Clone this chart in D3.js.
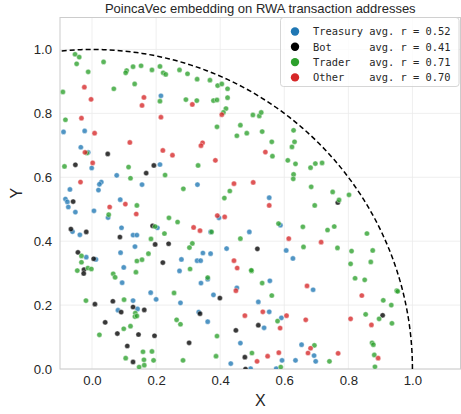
<!DOCTYPE html>
<html>
<head>
<meta charset="utf-8">
<script src="https://cdn.jsdelivr.net/npm/d3@7"></script>
<style>
  body { margin: 0; background: #fff; }
  svg { display: block; font-family: "Liberation Sans", Arial, sans-serif; }
</style>
</head>
<body>
<div id="chart"></div>
<script>

// data ====================

var categories = ["Treasury", "Bot", "Trader", "Other"];
var avgR = [0.52, 0.41, 0.71, 0.70];
var colors = ["#1f77b4", "#000000", "#2ca02c", "#d62728"];

var xTicks = [0.0, 0.2, 0.4, 0.6, 0.8, 1.0];
var yTicks = [0.0, 0.2, 0.4, 0.6, 0.8, 1.0];

var treasuryPts = [
  [0.215,0.855],[-0.089,0.742],[-0.023,0.745],[-0.035,0.694],[-0.012,0.678],[-0.001,0.629],
  [0.212,0.640],[0.077,0.606],[0.029,0.585],[0.023,0.578],[0.156,0.577],[0.020,0.560],
  [-0.069,0.562],[-0.083,0.532],[-0.077,0.523],[0.088,0.530],[-0.074,0.507],[0.006,0.495],
  [-0.052,0.491],[0.050,0.474],[-0.061,0.430],[-0.038,0.420],[0.092,0.442],[0.128,0.419],
  [0.140,0.419],[0.204,0.442],[0.134,0.383],[-0.018,0.350],[0.012,0.343],[0.089,0.364],
  [0.279,0.343],[0.099,0.318],[0.273,0.307],[0.094,0.270],[0.183,0.239],[0.200,0.218],
  [0.128,0.214],[0.276,0.207],[0.142,0.188],[0.081,0.184],[0.329,0.577],[0.553,0.536],
  [0.396,0.473],[0.370,0.429],[0.588,0.450],[0.491,0.429],[0.420,0.377],[0.606,0.371],
  [0.346,0.363],[0.370,0.361],[0.627,0.346],[0.328,0.339],[0.339,0.339],[0.361,0.281],
  [0.340,0.269],[0.555,0.276],[0.690,0.248],[0.452,0.254],[0.379,0.232],[0.519,0.210],
  [0.333,0.178],[0.361,0.148],[0.553,0.179],[0.591,0.160],[0.537,0.129],[0.463,0.081],
  [0.654,0.076],[0.693,0.042],[0.698,0.024],[0.593,0.027],[0.635,0.027],[0.575,0.001],
  [0.433,0.017],[0.495,0.001]
];

var botPts = [
  [0.049,0.673],[-0.052,0.639],[0.193,0.637],[0.169,0.613],[-0.059,0.524],[-0.066,0.438],
  [-0.018,0.429],[0.087,0.413],[0.189,0.448],[0.197,0.390],[0.239,0.392],[-0.044,0.365],
  [0.005,0.345],[0.221,0.333],[-0.025,0.311],[-0.026,0.299],[0.065,0.212],[0.009,0.203],
  [0.128,0.194],[0.091,0.178],[0.163,0.185],[0.041,0.146],[0.079,0.111],[0.145,0.108],
  [0.195,0.104],[0.303,0.082],[0.110,0.072],[0.128,0.022],[0.516,0.376],[0.399,0.222],
  [0.337,0.173],[0.449,0.121],[0.519,0.137],[0.477,0.037],[0.479,0.000],[0.767,0.521],
  [0.907,0.168]
];

var traderPts = [
  [-0.053,0.985],[-0.040,0.976],[-0.048,0.955],[0.036,0.961],[-0.012,0.930],[0.108,0.934],
  [0.105,0.927],[0.128,0.946],[0.153,0.949],[0.187,0.936],[0.212,0.947],[0.222,0.927],
  [0.230,0.922],[0.273,0.936],[0.298,0.924],[-0.091,0.867],[0.068,0.877],[0.133,0.892],
  [0.212,0.838],[0.293,0.843],[-0.083,0.780],[-0.016,0.676],[-0.086,0.634],[0.114,0.632],
  [0.120,0.597],[0.228,0.607],[0.285,0.564],[0.140,0.512],[0.052,0.483],[0.197,0.446],
  [0.240,0.473],[0.267,0.460],[0.226,0.424],[0.184,0.407],[0.313,0.393],[0.304,0.380],
  [-0.033,0.354],[-0.033,0.334],[0.176,0.361],[0.140,0.338],[0.156,0.342],[-0.046,0.308],
  [-0.013,0.316],[-0.002,0.313],[0.137,0.303],[0.306,0.313],[0.066,0.298],[0.072,0.287],
  [0.256,0.238],[0.100,0.217],[-0.019,0.214],[0.135,0.175],[0.134,0.164],[0.140,0.166],
  [0.264,0.154],[0.276,0.140],[0.120,0.134],[0.099,0.126],[0.023,0.107],[0.159,0.054],
  [0.187,0.055],[0.105,0.034],[0.162,0.029],[0.192,0.027],[0.284,0.027],[0.163,0.012],
  [0.147,0.006],[0.328,0.907],[0.368,0.904],[0.392,0.887],[0.405,0.892],[0.423,0.877],
  [0.327,0.840],[0.379,0.840],[0.390,0.842],[0.423,0.849],[0.418,0.815],[0.410,0.803],
  [0.502,0.795],[0.522,0.792],[0.528,0.803],[0.390,0.758],[0.463,0.763],[0.452,0.730],
  [0.483,0.738],[0.531,0.743],[0.629,0.747],[0.632,0.711],[0.624,0.695],[0.561,0.711],
  [0.563,0.666],[0.331,0.637],[0.611,0.653],[0.635,0.642],[0.682,0.630],[0.697,0.643],
  [0.718,0.645],[0.430,0.557],[0.413,0.535],[0.629,0.609],[0.628,0.595],[0.684,0.570],
  [0.695,0.512],[0.373,0.429],[0.582,0.455],[0.658,0.445],[0.735,0.435],[0.463,0.408],
  [0.660,0.382],[0.498,0.307],[0.497,0.309],[0.361,0.286],[0.531,0.269],[0.561,0.230],
  [0.579,0.150],[0.390,0.103],[0.694,0.074],[0.387,0.040],[0.499,0.050],[0.589,0.006],
  [0.741,0.024],[0.751,0.554],[0.771,0.529],[0.802,0.545],[0.756,0.446],[0.858,0.424],
  [0.766,0.379],[0.810,0.369],[0.876,0.371],[0.807,0.329],[0.870,0.335],[0.821,0.284],
  [0.851,0.279],[0.951,0.245],[0.954,0.243],[0.909,0.215],[0.934,0.200],[0.854,0.171],
  [0.896,0.157],[0.936,0.143],[0.874,0.082],[0.878,0.076],[0.881,0.044],[0.883,0.007]
];

var otherPts = [
  [-0.024,0.882],[-0.003,0.844],[0.162,0.850],[0.156,0.825],[0.313,0.828],[-0.033,0.785],
  [0.215,0.788],[0.008,0.738],[0.118,0.709],[-0.022,0.678],[0.221,0.684],[0.251,0.669],
  [0.002,0.645],[-0.036,0.585],[0.104,0.516],[0.055,0.507],[0.138,0.485],[0.317,0.443],
  [0.405,0.796],[0.345,0.708],[0.340,0.699],[0.541,0.679],[0.385,0.653],[0.443,0.580],
  [0.503,0.584],[0.553,0.512],[0.391,0.480],[0.414,0.476],[0.337,0.433],[0.614,0.408],
  [0.715,0.397],[0.443,0.339],[0.453,0.316],[0.671,0.260],[0.449,0.245],[0.533,0.179],
  [0.477,0.167],[0.607,0.167],[0.667,0.154],[0.587,0.128],[0.682,0.065],[0.674,0.050],
  [0.548,0.040],[0.583,0.051],[0.515,0.024],[0.842,0.230],[0.807,0.157],[0.872,0.138],
  [0.768,0.049],[0.893,0.034]
];

var series = [treasuryPts, botPts, traderPts, otherPts];

// layout ====================

var width = 461;
var height = 414;
var margin = { left: 60, right: 0.5, top: 17.5, bottom: 45 };

var x = d3.scaleLinear().domain([-0.1, 1.15]).range([margin.left, width - margin.right]);
var y = d3.scaleLinear().domain([0, 1.1]).range([height - margin.bottom, margin.top]);

var svg = d3.select('#chart')
  .append('svg')
  .attr('width', width)
  .attr('height', height);

svg.append('defs').append('clipPath')
  .attr('id', 'plot-clip')
  .append('rect')
  .attr('x', margin.left)
  .attr('y', margin.top)
  .attr('width', width - margin.right - margin.left)
  .attr('height', height - margin.bottom - margin.top);

// grid
svg.append('g')
  .selectAll('line')
  .data(xTicks)
  .enter().append('line')
  .attr('x1', function(d) { return x(d); })
  .attr('x2', function(d) { return x(d); })
  .attr('y1', margin.top)
  .attr('y2', height - margin.bottom)
  .attr('stroke', '#ebebeb')
  .attr('stroke-width', 0.8);

svg.append('g')
  .selectAll('line')
  .data(yTicks)
  .enter().append('line')
  .attr('x1', margin.left)
  .attr('x2', width - margin.right)
  .attr('y1', function(d) { return y(d); })
  .attr('y2', function(d) { return y(d); })
  .attr('stroke', '#ebebeb')
  .attr('stroke-width', 0.8);

// axes
var xAxis = svg.append('g')
  .attr('transform', 'translate(0,' + (height - margin.bottom) + ')')
  .call(d3.axisBottom(x).tickValues(xTicks).tickFormat(d3.format('.1f')).tickSize(0).tickPadding(7));

var yAxis = svg.append('g')
  .attr('transform', 'translate(' + margin.left + ',0)')
  .call(d3.axisLeft(y).tickValues(yTicks).tickFormat(d3.format('.1f')).tickSize(0).tickPadding(8));

[xAxis, yAxis].forEach(function(a) {
  a.select('.domain').remove();
  a.selectAll('text')
    .attr('fill', '#262626')
    .style('font-size', '13.2px')
    .style('font-family', '"Liberation Sans", Arial, sans-serif');
});

// frame
svg.append('rect')
  .attr('x', margin.left)
  .attr('y', margin.top)
  .attr('width', width - margin.right - margin.left)
  .attr('height', height - margin.bottom - margin.top)
  .attr('fill', 'none')
  .attr('stroke', '#cccccc')
  .attr('stroke-width', 1);

var plot = svg.append('g').attr('clip-path', 'url(#plot-clip)');

// points
series.forEach(function(pts, i) {
  plot.append('g')
    .selectAll('circle')
    .data(pts)
    .enter().append('circle')
    .attr('cx', function(d) { return x(d[0]); })
    .attr('cy', function(d) { return y(d[1]); })
    .attr('r', 2.6)
    .attr('fill', colors[i])
    .attr('fill-opacity', 0.78)
    .attr('stroke', '#ffffff')
    .attr('stroke-width', 0.4);
});

// unit circle
var angles = d3.range(0, 181).map(function(d) { return d * Math.PI / 180; });
plot.append('path')
  .datum(angles)
  .attr('d', d3.line()
    .x(function(t) { return x(Math.cos(t)); })
    .y(function(t) { return y(Math.sin(t)); }))
  .attr('fill', 'none')
  .attr('stroke', '#000')
  .attr('stroke-width', 1.5)
  .attr('stroke-dasharray', '5,3');

// labels
svg.append('text')
  .attr('x', (margin.left + width - margin.right) / 2)
  .attr('y', 13)
  .attr('text-anchor', 'middle')
  .attr('fill', '#262626')
  .style('font-size', '13px')
  .text('PoincaVec embedding on RWA transaction addresses');

svg.append('text')
  .attr('x', (margin.left + width - margin.right) / 2)
  .attr('y', 406)
  .attr('text-anchor', 'middle')
  .attr('fill', '#262626')
  .style('font-size', '16px')
  .text('X');

svg.append('text')
  .attr('transform', 'translate(22,' + ((margin.top + height - margin.bottom) / 2) + ') rotate(-90)')
  .attr('text-anchor', 'middle')
  .attr('fill', '#262626')
  .style('font-size', '16px')
  .text('Y');

// legend
var legend = svg.append('g').attr('transform', 'translate(280.5,17.5)');

legend.append('rect')
  .attr('width', 178.5)
  .attr('height', 69)
  .attr('rx', 3)
  .attr('fill', '#fff')
  .attr('fill-opacity', 0.8)
  .attr('stroke', '#cccccc')
  .attr('stroke-width', 0.8);

categories.forEach(function(c, i) {
  var row = legend.append('g').attr('transform', 'translate(0,' + (14 + i * 15.3) + ')');
  row.append('circle')
    .attr('cx', 14.5)
    .attr('cy', 0)
    .attr('r', 4.2)
    .attr('fill', colors[i]);
  var name = (c + '        ').slice(0, 8);
  row.append('text')
    .attr('x', 32.5)
    .attr('y', 3.8)
    .attr('fill', '#262626')
    .style('font-family', '"DejaVu Sans Mono", monospace')
    .style('font-size', '10.4px')
    .style('white-space', 'pre')
    .text(name + ' avg. r = ' + avgR[i].toFixed(2));
});

</script>
</body>
</html>
